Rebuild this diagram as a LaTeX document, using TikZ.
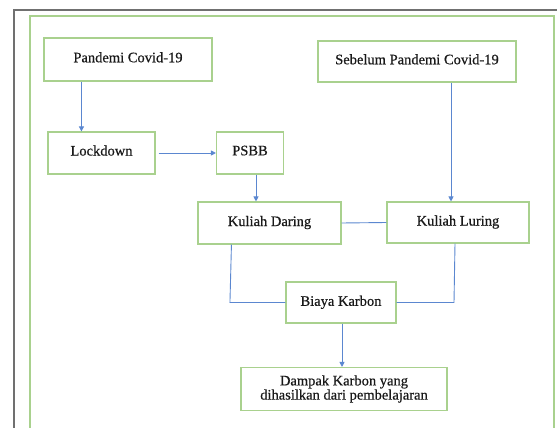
\documentclass[tikz,border=0pt]{standalone}
\usepackage{fontspec}
\setmainfont{Liberation Serif}
\newfontfamily\boxfont[FakeBold=0.5]{Liberation Serif}
\usetikzlibrary{calc,arrows.meta}
\definecolor{boxgreen}{HTML}{A9D18E}
\definecolor{linkblue}{HTML}{5B87D0}
\definecolor{framegray}{HTML}{707070}
\tikzset{
  box/.style={draw=boxgreen, line width=1.1pt, fill=white, inner sep=0pt, align=center,
    font=\boxfont\fontsize{14.5}{13}\selectfont, text=black!90},
  link/.style={draw=linkblue, line width=0.9pt},
  arr/.style={link, -{Triangle[length=5pt,width=5pt]}},
}
\newcommand{\up}[2]{\raisebox{#1pt}{#2}}
\begin{document}
\begin{tikzpicture}[x=1pt,y=-1pt]
\useasboundingbox (0,0) rectangle (557,428);
% frames
\draw[framegray, line width=2.4pt] (14,440) -- (14,10) -- (570,10);
\draw[boxgreen, line width=1.1pt] (30,440) -- (30,16) -- (554,16) -- (554,440);
% boxes
\node[box, minimum width=168, minimum height=43] (pand) at (128,59.5) {\up{4.5}{Pandemi Covid-19}};
\node[box, minimum width=107, minimum height=42] (lock) at (101.5,153) {\up{5}{Lockdown}};
\node[box, minimum width=67, minimum height=42] (psbb) at (250,153) {\up{5}{PSBB}};
\node[box, minimum width=198, minimum height=41] (seb) at (417,61.5) {\up{4.5}{Sebelum Pandemi Covid-19}};
\node[box, minimum width=143, minimum height=42] (dar) at (269.5,223) {\up{4}{Kuliah Daring}};
\node[box, minimum width=142, minimum height=41] (lur) at (458,222.5) {\up{4}{Kuliah Luring}};
\node[box, minimum width=110, minimum height=41] (bia) at (341,302.5) {\up{3.5}{Biaya Karbon}};
\node[box, minimum width=206, minimum height=43] (dam) at (344,389) {\up{3}{\parbox{200pt}{\centering\boxfont\fontsize{14.5}{13}\selectfont Dampak Karbon yang\\dihasilkan dari pembelajaran}}};
% connector end points
\coordinate (c1) at ($(pand.south west)+(38,0)$);
\coordinate (c2) at ($(psbb.south)+(6,0)$);
\coordinate (c3) at ($(lur.north)+(-7,0)$);
\coordinate (c4) at ($(dar.south west)+(34,0)$);
\coordinate (c5) at ($(lur.south)+(-3,0)$);
\coordinate (c6) at ($(bia.south)+(1,0)$);
% connectors
\draw[arr] (c1) -- (c1 |- lock.north);
\draw[arr] ([xshift=3pt]lock.east) -- (psbb.west);
\draw[arr] (c2) -- (c2 |- dar.north);
\draw[arr] (c3 |- seb.south) -- (c3);
\draw[link] (dar.east) -- (lur.west);
\draw[link] (c4) -- ([xshift=-1.5pt]c4 |- bia.west) -- (bia.west);
\draw[link] (c5) -- ([xshift=-1pt]c5 |- bia.east) -- (bia.east);
\draw[arr] (c6) -- (c6 |- dam.north);
\end{tikzpicture}
\end{document}
